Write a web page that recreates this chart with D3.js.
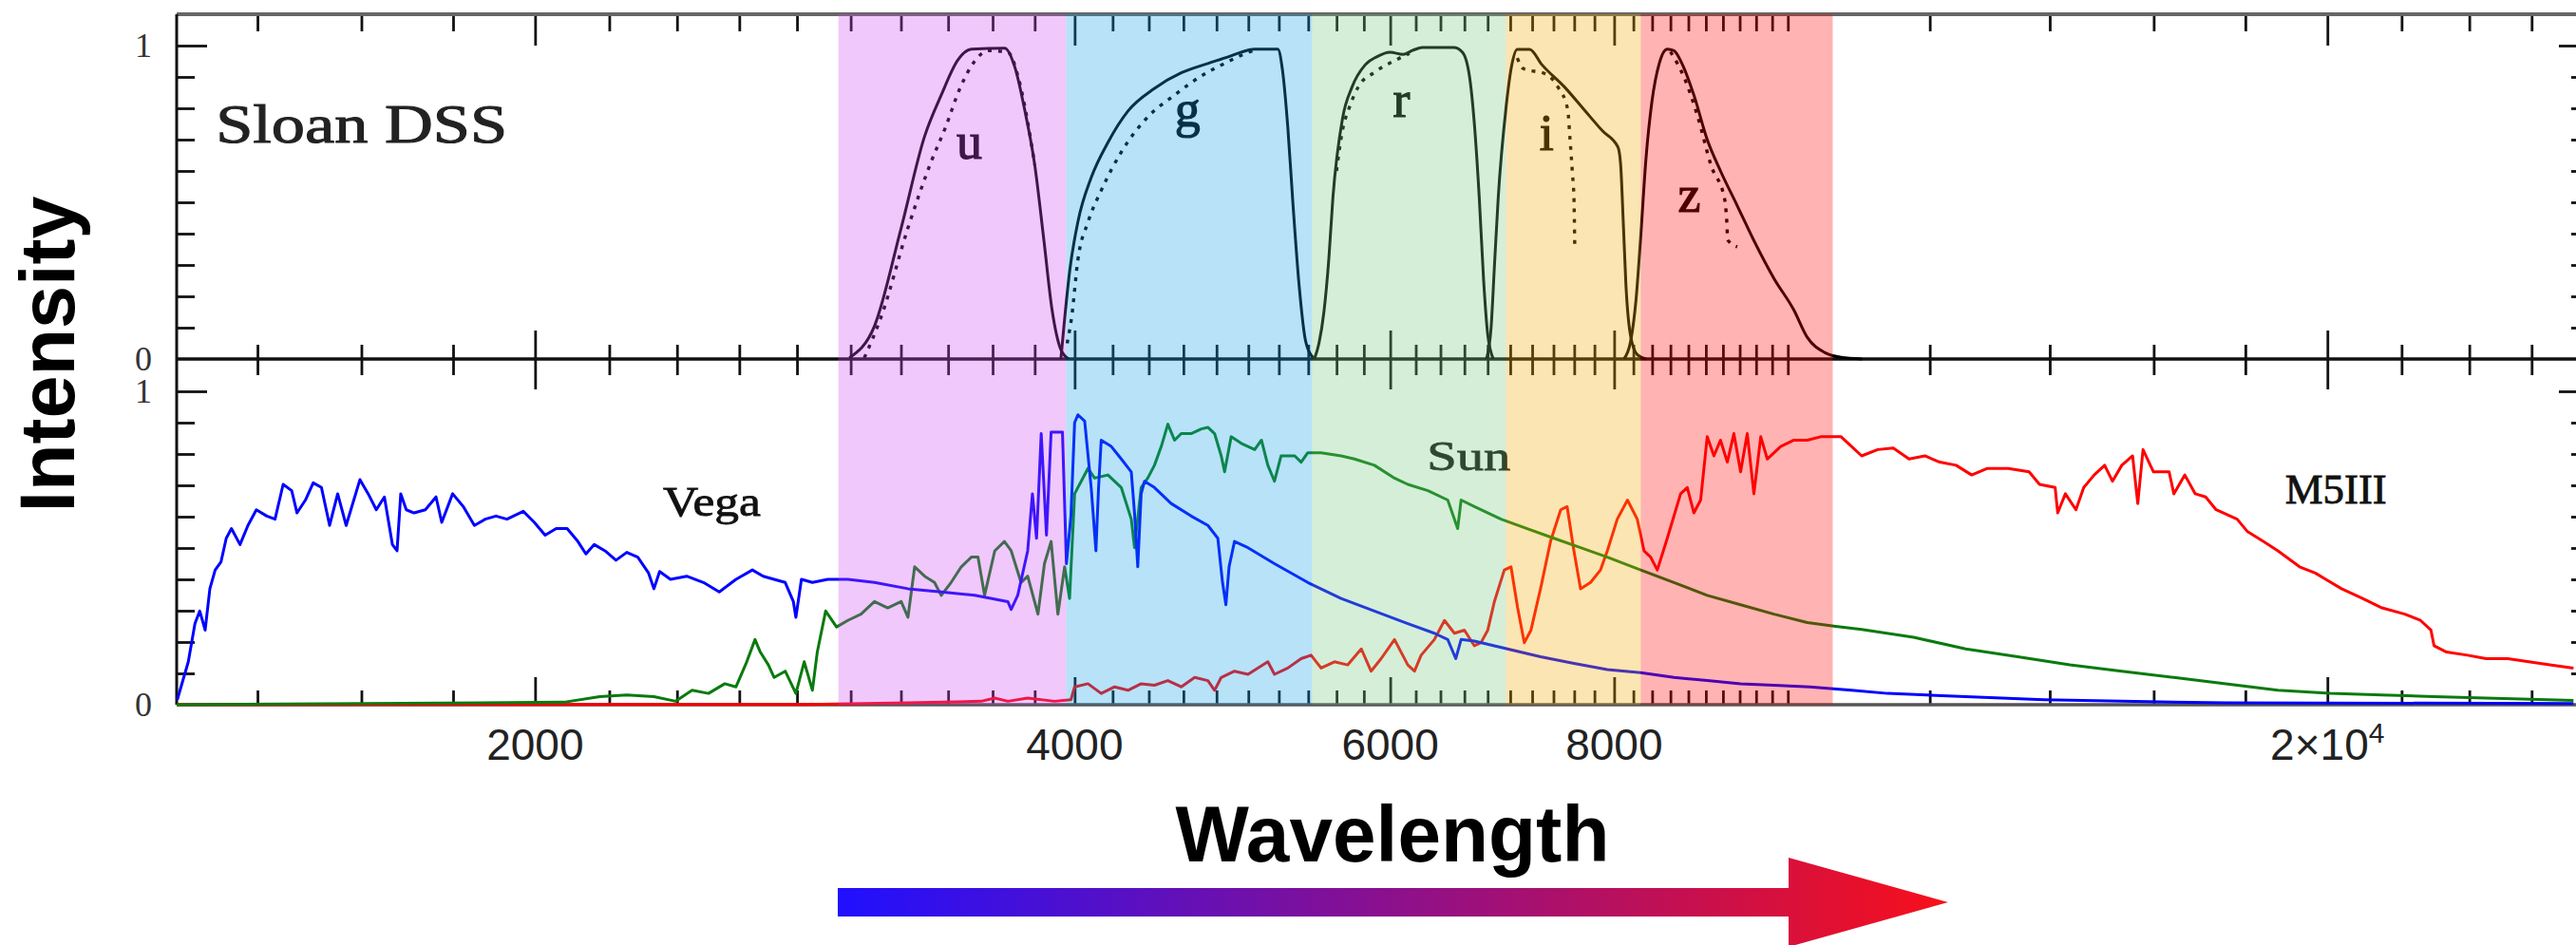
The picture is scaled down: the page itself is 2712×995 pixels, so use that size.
<!DOCTYPE html>
<html>
<head>
<meta charset="utf-8">
<script src="https://cdn.jsdelivr.net/npm/d3@7"></script>
<style>
  body { margin: 0; background: #fff; }
  svg { display: block; }
</style>
</head>
<body>
<div id="chart"></div>
<script>
// SDSS filter curves and three stellar spectra (Vega, Sun, M5III)
const width = 2712;
const height = 995;

// band edges in Angstrom, and the fill of each band
const bandEdges = [2953, 3957, 5427, 6961, 8278, 10593];
const bandColors = ["#cd48f2", "#129ee8", "#73c67d", "#f2a800", "#ff0202"];

// x axis ticks
const majorTicks = [2000, 4000, 6000, 8000, 20000];
const tickLabels = ["2000", "4000", "6000", "8000", "2×10"];

// filter response curves [wavelength, response]
const uSolid = [[2995,0.004],[3093,0.105],[3201,0.418],[3299,0.711],[3370,0.842],[3443,0.954],[3503,0.989],[3656,0.992],[3705,0.93],[3750,0.80],[3800,0.62],[3845,0.38],[3885,0.16],[3930,0.03],[3970,0]];
const uDotted = [[3053,0.004],[3120,0.135],[3229,0.418],[3327,0.63],[3389,0.74],[3450,0.86],[3518,0.95],[3580,0.984],[3671,0.979],[3720,0.90],[3765,0.76],[3800,0.62]];
const gSolid = [[3930,0],[3950,0.135],[3976,0.287],[4017,0.438],[4087,0.580],[4175,0.691],[4285,0.792],[4431,0.863],[4587,0.913],[4747,0.943],[4872,0.964],[4955,0.979],[5040,0.989],[5193,0.989],[5224,0.923],[5260,0.741],[5296,0.489],[5337,0.236],[5383,0.055],[5443,0]];
const gDotted = [[3962,0.05],[3985,0.135],[4017,0.317],[4070,0.438],[4140,0.539],[4248,0.661],[4394,0.772],[4548,0.842],[4707,0.903],[4830,0.938],[4955,0.969],[5040,0.986]];
const rSolid = [[5443,0],[5475,0.05],[5510,0.15],[5545,0.32],[5574,0.515],[5643,0.767],[5712,0.867],[5811,0.939],[5900,0.965],[5998,0.979],[6100,0.972],[6177,0.985],[6253,0.994],[6509,0.994],[6583,0.979],[6645,0.897],[6686,0.745],[6727,0.515],[6765,0.25],[6800,0.08],[6850,0]];
const rDotted = [[5600,0.6],[5643,0.73],[5691,0.80],[5761,0.87],[5881,0.915],[6048,0.955],[6150,0.975]];
const iSolid = [[6790,0],[6830,0.1],[6860,0.3],[6893,0.515],[6961,0.797],[7010,0.93],[7064,0.988],[7177,0.988],[7291,0.939],[7508,0.867],[7693,0.797],[7883,0.727],[8039,0.676],[8067,0.62],[8094,0.438],[8122,0.236],[8170,0.075],[8241,0.014],[8334,0]];
const iDotted = [[7064,0.96],[7116,0.927],[7327,0.909],[7444,0.867],[7536,0.797],[7560,0.697],[7582,0.594],[7597,0.515],[7605,0.36]];
const zSolid = [[8101,0],[8170,0.055],[8227,0.186],[8277,0.388],[8334,0.640],[8398,0.822],[8477,0.943],[8565,0.989],[8639,0.984],[8728,0.943],[8863,0.842],[9016,0.70],[9171,0.60],[9369,0.49],[9573,0.378],[9823,0.257],[10078,0.156],[10250,0.07],[10490,0.02],[10710,0.005],[11000,0]];
const zDotted = [[8600,0.98],[8750,0.9],[8900,0.78],[9064,0.615],[9220,0.51],[9245,0.44],[9257,0.38],[9370,0.358]];

// filter labels [name, wavelength, response]
const filterLabels = [["u",3494,0.639],["g",4624,0.742],["r",6087,0.773],["i",7336,0.667],["z",8810,0.470]];

// spectra [wavelength, normalised flux]
const vegaSpectrum = [[1263,0.016],[1281,0.137],[1292,0.259],[1300,0.299],[1309,0.238],[1317,0.370],[1326,0.430],[1336,0.456],[1345,0.531],[1354,0.562],[1369,0.511],[1383,0.572],[1398,0.622],[1417,0.602],[1432,0.592],[1447,0.703],[1463,0.683],[1473,0.612],[1489,0.653],[1504,0.708],[1520,0.693],[1536,0.572],[1552,0.673],[1569,0.572],[1597,0.718],[1614,0.673],[1631,0.622],[1648,0.663],[1665,0.511],[1675,0.491],[1683,0.673],[1695,0.622],[1712,0.612],[1737,0.622],[1761,0.663],[1774,0.582],[1799,0.673],[1824,0.632],[1850,0.572],[1876,0.592],[1902,0.602],[1929,0.592],[1970,0.617],[1998,0.582],[2026,0.541],[2055,0.562],[2084,0.562],[2113,0.521],[2135,0.481],[2158,0.511],[2188,0.491],[2219,0.461],[2250,0.486],[2282,0.471],[2314,0.420],[2330,0.370],[2347,0.425],[2380,0.400],[2430,0.410],[2483,0.390],[2534,0.360],[2589,0.400],[2644,0.430],[2681,0.410],[2719,0.400],[2758,0.390],[2787,0.329],[2796,0.279],[2816,0.400],[2856,0.390],[2913,0.400],[2989,0.400],[3093,0.390],[3229,0.370],[3370,0.360],[3518,0.349],[3671,0.329],[3687,0.304],[3718,0.349],[3766,0.491],[3789,0.673],[3809,0.531],[3832,0.865],[3858,0.541],[3881,0.870],[3938,0.870],[3958,0.450],[3981,0.600],[4000,0.900],[4017,0.925],[4052,0.905],[4086,0.693],[4111,0.491],[4125,0.693],[4139,0.844],[4193,0.824],[4247,0.784],[4302,0.743],[4320,0.612],[4338,0.440],[4357,0.673],[4376,0.713],[4432,0.693],[4528,0.642],[4646,0.602],[4747,0.572],[4808,0.531],[4837,0.390],[4858,0.319],[4878,0.440],[4912,0.521],[4998,0.501],[5171,0.450],[5397,0.390],[5633,0.339],[5879,0.299],[6137,0.259],[6350,0.228],[6460,0.208],[6527,0.147],[6572,0.208],[6685,0.203],[6859,0.188],[7278,0.153],[7597,0.132],[7930,0.112],[8277,0.102],[8639,0.087],[9016,0.077],[9411,0.067],[9823,0.062],[10284,0.057],[10853,0.046],[11368,0.036],[12567,0.026],[13893,0.016],[15358,0.011],[17555,0.006],[27437,0.004]];
const sunSpectrum = [[1262,0],[2076,0.008],[2173,0.026],[2250,0.031],[2330,0.026],[2396,0.011],[2447,0.046],[2499,0.036],[2552,0.067],[2589,0.057],[2625,0.137],[2653,0.208],[2671,0.168],[2699,0.127],[2719,0.087],[2758,0.107],[2796,0.036],[2826,0.137],[2856,0.046],[2874,0.168],[2905,0.299],[2946,0.248],[2989,0.269],[3040,0.289],[3093,0.329],[3146,0.309],[3201,0.329],[3229,0.279],[3257,0.440],[3299,0.410],[3341,0.390],[3370,0.349],[3413,0.390],[3458,0.440],[3503,0.471],[3533,0.471],[3563,0.349],[3610,0.491],[3655,0.521],[3687,0.491],[3734,0.390],[3766,0.410],[3816,0.289],[3848,0.450],[3881,0.521],[3915,0.289],[3949,0.440],[3974,0.339],[4000,0.673],[4034,0.713],[4069,0.754],[4104,0.723],[4175,0.733],[4247,0.693],[4302,0.592],[4320,0.501],[4357,0.693],[4394,0.723],[4432,0.764],[4471,0.824],[4509,0.895],[4548,0.844],[4587,0.865],[4646,0.865],[4707,0.880],[4747,0.885],[4788,0.865],[4829,0.794],[4850,0.743],[4891,0.855],[4955,0.834],[5041,0.814],[5085,0.844],[5127,0.764],[5171,0.713],[5215,0.794],[5307,0.794],[5351,0.774],[5397,0.804],[5490,0.804],[5633,0.794],[5730,0.784],[5879,0.764],[6033,0.723],[6137,0.703],[6298,0.683],[6460,0.653],[6543,0.562],[6572,0.653],[6685,0.632],[6918,0.592],[7154,0.562],[7404,0.531],[7662,0.501],[7930,0.471],[8277,0.430],[8639,0.390],[9016,0.349],[9411,0.319],[9823,0.289],[10253,0.262],[10633,0.25],[10995,0.240],[11754,0.215],[12567,0.178],[13436,0.153],[14365,0.127],[15358,0.107],[16420,0.087],[17555,0.067],[18769,0.046],[20067,0.036],[21454,0.031],[22938,0.026],[24524,0.021],[27437,0.014]];
const m5Spectrum = [[1262,0],[2839,0.001],[3229,0.006],[3548,0.011],[3610,0.021],[3671,0.011],[3766,0.021],[3898,0.011],[3981,0.016],[4000,0.057],[4069,0.067],[4139,0.036],[4211,0.057],[4284,0.046],[4357,0.067],[4432,0.062],[4509,0.077],[4587,0.057],[4667,0.087],[4747,0.077],[4788,0.046],[4829,0.087],[4912,0.107],[4998,0.097],[5127,0.137],[5171,0.097],[5260,0.117],[5351,0.147],[5420,0.158],[5490,0.117],[5585,0.137],[5681,0.127],[5781,0.178],[5854,0.107],[5930,0.147],[6033,0.208],[6137,0.127],[6190,0.107],[6243,0.158],[6350,0.208],[6433,0.269],[6516,0.228],[6600,0.238],[6685,0.188],[6742,0.198],[6801,0.238],[6859,0.329],[6947,0.430],[7007,0.440],[7067,0.309],[7128,0.198],[7189,0.238],[7278,0.370],[7372,0.521],[7469,0.622],[7531,0.632],[7597,0.491],[7662,0.370],[7761,0.390],[7861,0.430],[7930,0.491],[8032,0.592],[8138,0.653],[8241,0.592],[8313,0.491],[8384,0.471],[8456,0.430],[8565,0.531],[8713,0.673],[8788,0.693],[8863,0.612],[8940,0.653],[9016,0.855],[9094,0.794],[9171,0.844],[9252,0.774],[9330,0.865],[9411,0.743],[9492,0.865],[9573,0.673],[9658,0.855],[9739,0.784],[9908,0.824],[10078,0.844],[10253,0.844],[10430,0.855],[10610,0.855],[10708,0.855],[10853,0.824],[10995,0.794],[11224,0.814],[11450,0.819],[11685,0.784],[11925,0.794],[12154,0.774],[12412,0.764],[12664,0.733],[12923,0.754],[13273,0.754],[13633,0.743],[13817,0.703],[14097,0.693],[14144,0.612],[14284,0.673],[14479,0.622],[14625,0.693],[14822,0.733],[15023,0.764],[15174,0.713],[15358,0.764],[15572,0.794],[15676,0.642],[15782,0.814],[15995,0.743],[16320,0.743],[16420,0.673],[16653,0.733],[16877,0.673],[17105,0.663],[17336,0.622],[17810,0.592],[18051,0.552],[18419,0.521],[18769,0.491],[19298,0.440],[19693,0.420],[19958,0.400],[20367,0.370],[20926,0.339],[21454,0.309],[22091,0.289],[22541,0.269],[22846,0.238],[22938,0.188],[23307,0.168],[23943,0.158],[24524,0.147],[25215,0.147],[25905,0.137],[26613,0.127],[27437,0.117]];

// spectrum labels [text, wavelength, flux]
const starLabels = [["Vega",2510,0.603],["Sun",6637,0.748],["M5III",20220,0.642]];
const starLabelWidths = [103, 88, 107];

// Create SVG container
const svg = d3.select("#chart")
    .append("svg")
    .attr("width", width)
    .attr("height", height)
    .style("font-family", "'Liberation Serif', serif");

// scales
const x = d3.scaleLog().domain([1262, 28000]).range([186, 2726]);
const yTop = d3.scaleLinear().domain([0, 1]).range([378, 48]);
const yBot = d3.scaleLinear().domain([0, 1]).range([742, 412]);

const frameTop = 15, frameMid = yTop(0), frameBot = yBot(0);
const xLeft = x.range()[0], xRight = x.range()[1];

// minor ticks: every 200 A up to 1e4, every 2000 A above
const minorTicks = d3.range(1400, 10001, 200).concat(d3.range(12000, 26001, 2000))
    .filter(t => !majorTicks.includes(t));

// x tick helper: draws ticks with d3 axes, no domain line
function xTicks(axisFn, yPos, values, size) {
    const g = svg.append("g")
        .attr("transform", `translate(0,${yPos})`)
        .call(axisFn(x).tickValues(values).tickSize(size).tickFormat(""));
    g.select(".domain").remove();
    g.selectAll("line").attr("stroke", "#111").attr("stroke-width", 2.8);
}
xTicks(d3.axisBottom, frameTop, minorTicks, 18);
xTicks(d3.axisBottom, frameTop, majorTicks, 33);
xTicks(d3.axisTop, frameMid, minorTicks, 15);
xTicks(d3.axisTop, frameMid, majorTicks, 30);
xTicks(d3.axisBottom, frameMid, minorTicks, 17);
xTicks(d3.axisBottom, frameMid, majorTicks, 32);
xTicks(d3.axisTop, frameBot, minorTicks, 15);
xTicks(d3.axisTop, frameBot, majorTicks, 29);

// y ticks on both sides of both panels
const yMinor = d3.range(1, 10).map(d => d / 10);
function yTicks(scale) {
    [[d3.axisRight, xLeft], [d3.axisLeft, xRight]].forEach(([axisFn, xPos]) => {
        [[yMinor, 19], [[1], 32]].forEach(([vals, size]) => {
            const g = svg.append("g")
                .attr("transform", `translate(${xPos},0)`)
                .call(axisFn(scale).tickValues(vals).tickSize(size).tickFormat(""));
            g.select(".domain").remove();
            g.selectAll("line").attr("stroke", "#111").attr("stroke-width", 2.8);
        });
    });
}
yTicks(yTop);
yTicks(yBot);

// frame
svg.append("line").attr("x1", xLeft).attr("x2", xRight).attr("y1", frameTop).attr("y2", frameTop)
    .attr("stroke", "#666").attr("stroke-width", 4);
svg.append("line").attr("x1", xLeft).attr("x2", xRight).attr("y1", frameMid).attr("y2", frameMid)
    .attr("stroke", "#111").attr("stroke-width", 3.5);
svg.append("line").attr("x1", xLeft).attr("x2", xRight).attr("y1", frameBot).attr("y2", frameBot)
    .attr("stroke", "#555").attr("stroke-width", 3.5);
svg.append("line").attr("x1", xLeft).attr("x2", xLeft).attr("y1", frameTop).attr("y2", frameBot)
    .attr("stroke", "#111").attr("stroke-width", 3);
svg.append("line").attr("x1", xRight).attr("x2", xRight).attr("y1", frameTop).attr("y2", frameBot)
    .attr("stroke", "#111").attr("stroke-width", 3);

// y tick labels
[[yTop, 0], [yTop, 1], [yBot, 0], [yBot, 1]].forEach(([scale, v]) => {
    svg.append("text")
        .attr("x", 160).attr("y", scale(v) + 12)
        .attr("text-anchor", "end")
        .attr("font-size", 36)
        .attr("fill", "#333")
        .text(v);
});

// filter curves
const filterLine = d3.line().x(d => x(d[0])).y(d => yTop(d[1])).curve(d3.curveMonotoneX);
[uSolid, gSolid, rSolid, iSolid, zSolid].forEach(data => {
    svg.append("path").attr("d", filterLine(data))
        .attr("fill", "none").attr("stroke", "#000").attr("stroke-width", 3);
});
[uDotted, gDotted, rDotted, iDotted, zDotted].forEach(data => {
    svg.append("path").attr("d", filterLine(data))
        .attr("fill", "none").attr("stroke", "#000").attr("stroke-width", 3.4)
        .attr("stroke-dasharray", "4,7");
});

// spectra
const specLine = d3.line().x(d => x(d[0])).y(d => yBot(d[1]));
[[m5Spectrum, "#ff0000"], [sunSpectrum, "#0a7a0e"], [vegaSpectrum, "#0000ff"]].forEach(([data, color]) => {
    svg.append("path").attr("d", specLine(data))
        .attr("fill", "none").attr("stroke", color)
        .attr("stroke-width", 3).attr("stroke-linejoin", "round");
});

// text inside the plot
svg.append("text")
    .attr("x", x(1327)).attr("y", yTop(0.691))
    .attr("font-size", 56)
    .attr("fill", "#222")
    .attr("stroke", "#222").attr("stroke-width", 1)
    .attr("textLength", 307).attr("lengthAdjust", "spacingAndGlyphs")
    .text("Sloan DSS");

filterLabels.forEach(([name, wl, v]) => {
    svg.append("text")
        .attr("x", x(wl)).attr("y", yTop(v))
        .attr("text-anchor", "middle")
        .attr("font-size", 54)
        .attr("fill", "#000")
        .attr("stroke", "#000").attr("stroke-width", 1.2)
        .text(name);
});

starLabels.forEach(([name, wl, v], i) => {
    svg.append("text")
        .attr("x", x(wl)).attr("y", yBot(v))
        .attr("text-anchor", "middle")
        .attr("font-size", 45)
        .attr("fill", "#111")
        .attr("stroke", "#111").attr("stroke-width", 0.8)
        .attr("textLength", starLabelWidths[i]).attr("lengthAdjust", "spacingAndGlyphs")
        .text(name);
});

// coloured filter bands, laid over the curves
svg.append("g").selectAll("rect")
    .data(bandColors)
    .join("rect")
    .attr("x", (d, i) => x(bandEdges[i]))
    .attr("width", (d, i) => x(bandEdges[i + 1]) - x(bandEdges[i]))
    .attr("y", frameTop)
    .attr("height", frameBot - frameTop)
    .attr("fill", d => d)
    .attr("fill-opacity", 0.3);

// x tick labels
majorTicks.forEach((t, i) => {
    const label = svg.append("text")
        .attr("x", x(t)).attr("y", 800)
        .attr("text-anchor", "middle")
        .attr("font-family", "'Liberation Sans', Arial, sans-serif")
        .attr("font-size", 46)
        .attr("fill", "#222")
        .text(tickLabels[i]);
    if (t === 20000) {
        label.append("tspan").attr("font-size", 30).attr("dy", -18).text("4");
    }
});

// axis titles
svg.append("text")
    .attr("x", 78).attr("y", 373)
    .attr("transform", "rotate(-90,78,373)")
    .attr("text-anchor", "middle")
    .attr("font-family", "'Liberation Sans', Arial, sans-serif")
    .attr("font-weight", "bold")
    .attr("font-size", 81)
    .text("Intensity");

svg.append("text")
    .attr("x", 1466).attr("y", 907)
    .attr("text-anchor", "middle")
    .attr("font-family", "'Liberation Sans', Arial, sans-serif")
    .attr("font-weight", "bold")
    .attr("font-size", 83)
    .attr("textLength", 457).attr("lengthAdjust", "spacingAndGlyphs")
    .text("Wavelength");

// blue-to-red arrow under the title
const grad = svg.append("defs").append("linearGradient")
    .attr("id", "arrowGrad")
    .attr("gradientUnits", "userSpaceOnUse")
    .attr("x1", 882).attr("x2", 2051).attr("y1", 0).attr("y2", 0);
grad.append("stop").attr("offset", "0%").attr("stop-color", "#2010ff");
grad.append("stop").attr("offset", "100%").attr("stop-color", "#f8101a");

svg.append("path")
    .attr("d", "M882,935 L1883,935 L1883,903 L2051,950 L1883,997 L1883,965 L882,965 Z")
    .attr("fill", "url(#arrowGrad)");
</script>
</body>
</html>
